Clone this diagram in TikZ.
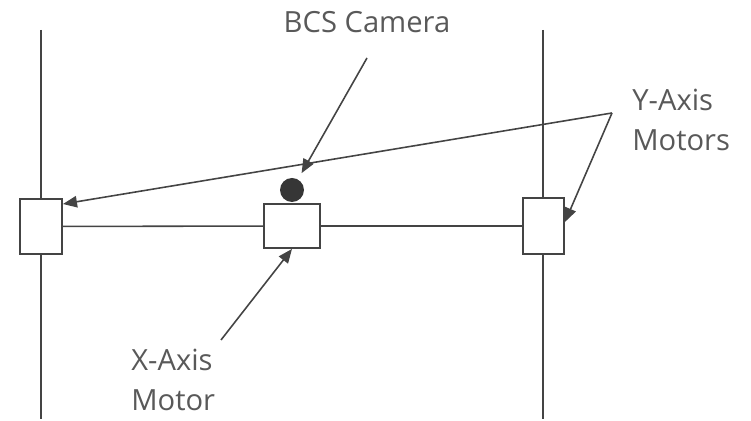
\documentclass[tikz,border=0pt]{standalone}
\usepackage{fontspec}
\setmainfont{Open Sans}
\usetikzlibrary{arrows.meta,positioning,calc}
\definecolor{edgegray}{RGB}{68,68,68}
\definecolor{textgray}{RGB}{89,89,89}
\tikzset{
  motor/.style={draw=edgegray,line width=1.1pt,fill=white,inner sep=0pt},
  rail/.style={draw=edgegray,line width=0.9pt},
  pointer/.style={->,draw=edgegray,line width=0.9pt},
  caption/.style={text=textgray,font=\fontsize{16.6}{22.7}\selectfont,inner sep=0pt,align=left}
}

\begin{document}
\begin{tikzpicture}[x=0.02cm,y=-0.02cm,>={Triangle[length=8pt,width=6.5pt]}]
  \useasboundingbox (0,0) rectangle (751,421);
  \draw[rail] (41,30) -- (41,419);
  \draw[rail] (543,30) -- (543,419);
  \node[motor,minimum width=0.84cm,minimum height=1.1cm] (lmotor) at (41,226.5) {};
  \node[motor,minimum width=1.12cm,minimum height=0.88cm] (xmotor) at (292,226) {};
  \node[motor,minimum width=0.82cm,minimum height=1.12cm] (rmotor) at (543.5,226) {};
  \node[circle,fill=edgegray!80!black,minimum size=0.48cm,inner sep=0pt] (camera) at (292,190) {};
  \draw[rail] (lmotor) -- (xmotor);
  \draw[rail] (xmotor) -- (rmotor);
  \node[caption] (bcslabel) at (367,22) {BCS Camera};
  \node[caption,anchor=west] (ylabel) at (632,120) {Y-Axis\\Motors};
  \node[caption,anchor=west] (xlabel) at (131,380) {X-Axis\\Motor};
  \coordinate (bcsstart) at (367,58);
  \coordinate (ystart) at (612,113);
  \coordinate (xstart) at (221,340);
  \draw[pointer,shorten >=4pt] (bcsstart) -- (camera);
  \draw[pointer] (ystart) -- ([yshift=-0.12cm]lmotor.north east);
  \draw[pointer] (ystart) -- ([yshift=0.08cm]rmotor.east);
  \draw[pointer] (xstart) -- (xmotor.south);
\end{tikzpicture}
\end{document}
